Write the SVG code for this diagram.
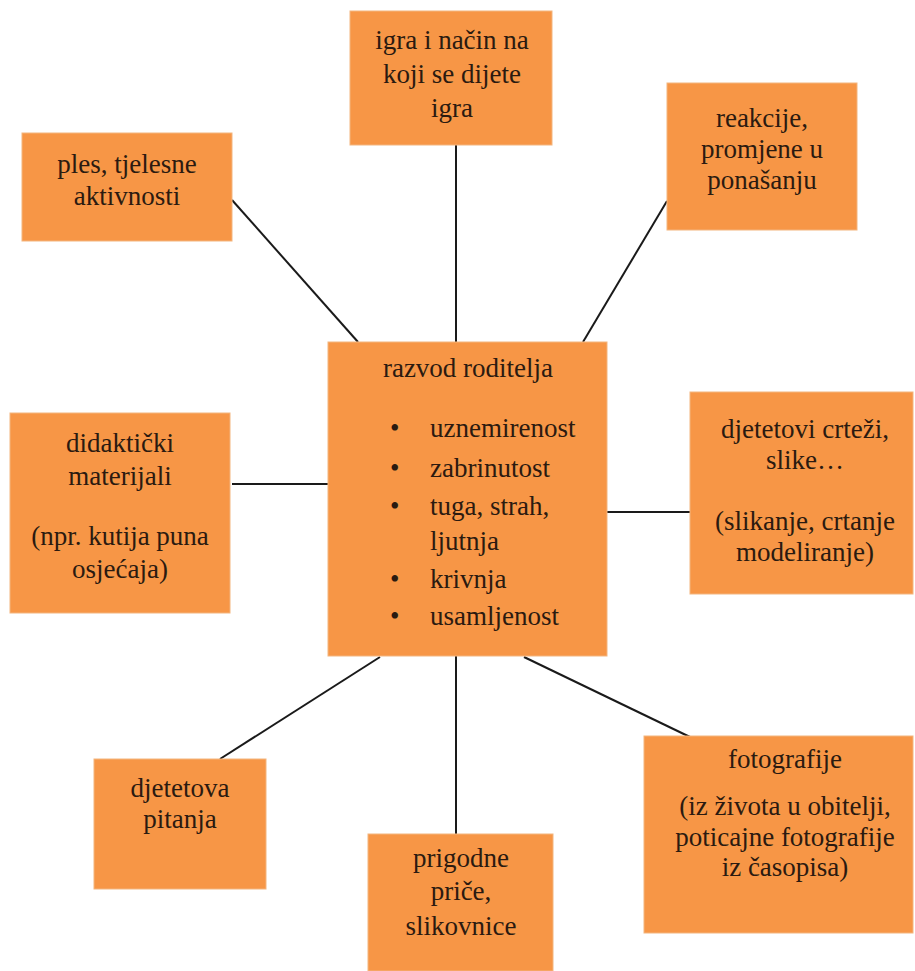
<svg xmlns="http://www.w3.org/2000/svg" width="915" height="971" viewBox="0 0 915 971">
<style>
.box{fill:#f79646;stroke:#f3b57e;stroke-width:1}
text{font-size:27px;fill:#2b1a10}
.t{text-anchor:middle}
.c{stroke:#1a1a1a;stroke-width:2;fill:none}
</style>
<rect width="915" height="971" fill="#ffffff"/>
<g id="connectors">
<line class="c" x1="456" y1="145" x2="456" y2="342"/>
<line class="c" x1="232" y1="200" x2="358" y2="342"/>
<line class="c" x1="667" y1="201" x2="583" y2="342"/>
<line class="c" x1="232" y1="484" x2="328" y2="484"/>
<line class="c" x1="607" y1="512" x2="690" y2="512"/>
<line class="c" x1="380" y1="657" x2="220" y2="759"/>
<line class="c" x1="456" y1="656" x2="456" y2="834"/>
<line class="c" x1="524" y1="657" x2="690" y2="737"/>
</g>
<g font-family="Liberation Serif, Times New Roman, Tinos, Noto Serif, DejaVu Serif, serif">
<g id="igra">
<rect class="box" x="350" y="11" width="202" height="134"/>
<text class="t" x="452" y="49">igra i način na</text>
<text class="t" x="452" y="83">koji se dijete</text>
<text class="t" x="452" y="117">igra</text>
</g>
<g id="ples">
<rect class="box" x="22" y="133" width="210" height="108"/>
<text class="t" x="127" y="173">ples, tjelesne</text>
<text class="t" x="127" y="205">aktivnosti</text>
</g>
<g id="reakcije">
<rect class="box" x="667" y="83" width="190" height="147"/>
<text class="t" x="762" y="127">reakcije,</text>
<text class="t" x="762" y="158">promjene u</text>
<text class="t" x="762" y="189">ponašanju</text>
</g>
<g id="razvod">
<rect class="box" x="328" y="342" width="279" height="314"/>
<text class="t" x="468" y="377">razvod roditelja</text>
<text x="390" y="437">•</text><text x="430" y="437">uznemirenost</text>
<text x="390" y="477">•</text><text x="430" y="477">zabrinutost</text>
<text x="390" y="515">•</text><text x="430" y="515">tuga, strah,</text>
<text x="430" y="550">ljutnja</text>
<text x="390" y="588">•</text><text x="430" y="588">krivnja</text>
<text x="390" y="625">•</text><text x="430" y="625">usamljenost</text>
</g>
<g id="didakticki">
<rect class="box" x="10" y="413" width="220" height="200"/>
<text class="t" x="120" y="452">didaktički</text>
<text class="t" x="120" y="485">materijali</text>
<text class="t" x="120" y="545">(npr. kutija puna</text>
<text class="t" x="120" y="578">osjećaja)</text>
</g>
<g id="crtezi">
<rect class="box" x="690" y="392" width="223" height="202"/>
<text class="t" x="805" y="438">djetetovi crteži,</text>
<text class="t" x="805" y="469">slike…</text>
<text class="t" x="805" y="530">(slikanje, crtanje</text>
<text class="t" x="805" y="561">modeliranje)</text>
</g>
<g id="pitanja">
<rect class="box" x="94" y="759" width="172" height="130"/>
<text class="t" x="180" y="797">djetetova</text>
<text class="t" x="180" y="828">pitanja</text>
</g>
<g id="price">
<rect class="box" x="368" y="834" width="185" height="137"/>
<text class="t" x="461" y="867">prigodne</text>
<text class="t" x="461" y="900">priče,</text>
<text class="t" x="461" y="935">slikovnice</text>
</g>
<g id="fotografije">
<rect class="box" x="644" y="736" width="269" height="197"/>
<text class="t" x="785" y="768">fotografije</text>
<text class="t" x="785" y="815">(iz života u obitelji,</text>
<text class="t" x="785" y="846">poticajne fotografije</text>
<text class="t" x="785" y="876">iz časopisa)</text>
</g>
</g>
</svg>
